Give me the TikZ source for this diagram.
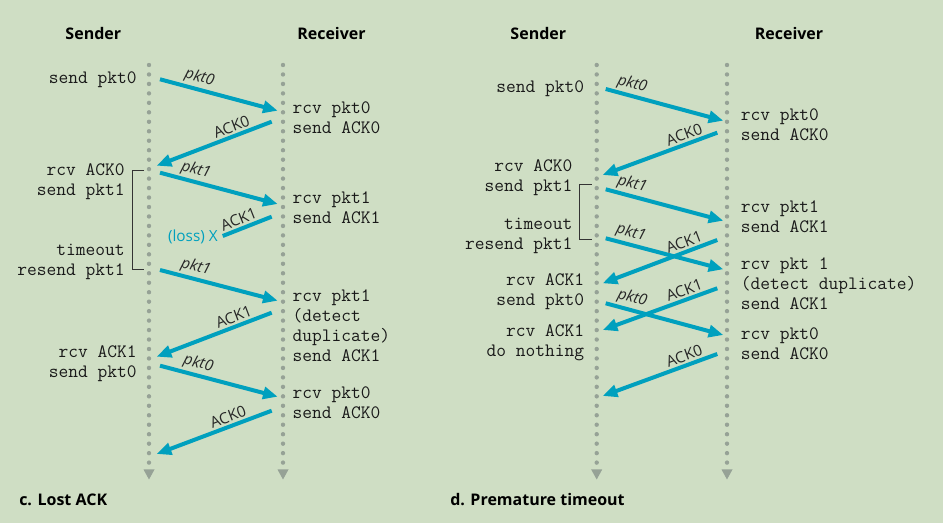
\documentclass[tikz,border=0pt]{standalone}
\usepackage{fontspec}
\setmainfont{Open Sans}
\usetikzlibrary{arrows.meta, positioning}
\definecolor{bggreen}{RGB}{207,222,196}
\definecolor{msgcyan}{RGB}{0,160,190}
\definecolor{dotgray}{RGB}{150,162,150}

\tikzset{
  hdr/.style={font=\bfseries\fontsize{12}{14}\selectfont, inner sep=0pt},
  evt/.style={font=\ttfamily\fontsize{14.2}{15}\selectfont, inner sep=0pt, text=black!90},
  msg/.style={msgcyan, line width=3pt, -{Triangle[length=11pt,width=9pt]}},
  lost/.style={msgcyan, line width=3pt},
  pktlbl/.style={font=\itshape\fontsize{11.5}{13}\selectfont, text=black!85, sloped, above, inner sep=1.5pt},
  acklbl/.style={font=\fontsize{11.5}{13}\selectfont, text=black!85, sloped, above, inner sep=1.5pt},
  lifeline/.style={dotgray, line width=3.3pt, line cap=round, dash pattern=on 0pt off 7.1pt},
  brk/.style={black!80, line width=0.7pt},
}

\begin{document}
\begin{tikzpicture}[x=0.75pt, y=-0.75pt]
  \fill[bggreen] (0,0) rectangle (943,523);
  \useasboundingbox (0,0) rectangle (943,523);

  % ---- c. Lost ACK ----
  \node (senderC) [hdr] at (93.3,33.3) {Sender};
  \node (receiverC) [hdr] at (331.5,33.3) {Receiver};
  \draw[lifeline] (149,65) -- (149,465);
  \draw[lifeline] (283,65) -- (283,465);
  \fill[dotgray] (143.5,469.5) -- (154.5,469.5) -- (149,479.5) -- cycle;
  \fill[dotgray] (277.5,469.5) -- (288.5,469.5) -- (283,479.5) -- cycle;

  \node (cL1) [evt, anchor=east] at (137,79.3) {send pkt0};
  \node (cL2) [evt, anchor=east, align=right] at (125,182) {rcv ACK0\\send pkt1};
  \node (cL3) [evt, anchor=east, align=right] at (125,262.3) {timeout\\resend pkt1};
  \node (cL4) [evt, anchor=east, align=right] at (137,363.3) {rcv ACK1\\send pkt0};
  \draw[brk] (144,170.7) -- (132.7,170.7) -- (132.7,269.3) -- (144,269.3);

  \node (cR1) [evt, anchor=west, align=left] at (292.3,117.3) {rcv pkt0\\send ACK0};
  \node (cR2) [evt, anchor=west, align=left] at (292.3,207.8) {rcv pkt1\\send ACK1};
  \node (cR3) [evt, anchor=west, align=left] at (292.3,326) {rcv pkt1\\(detect\\duplicate)\\send ACK1};
  \node (cR4) [evt, anchor=west, align=left] at (292.3,402.7) {rcv pkt0\\send ACK0};

  \coordinate (cS1) at (160,79.3);     \coordinate (cR1t) at (277.7,110.7);
  \coordinate (cR1s) at (271.7,121.7); \coordinate (cS2) at (156.7,165.7);
  \coordinate (cS3) at (160,172.7);    \coordinate (cR2t) at (277.7,204);
  \coordinate (cR2s) at (271.7,216.7); \coordinate (cLoss) at (222.7,236);
  \coordinate (cS4) at (160,270);      \coordinate (cR3t) at (277.7,300.7);
  \coordinate (cR3s) at (271.7,312.7); \coordinate (cS5) at (156.7,356.7);
  \coordinate (cS6) at (160,365.7);    \coordinate (cR4t) at (277.7,396.7);
  \coordinate (cR4s) at (271.7,410.7); \coordinate (cS7) at (156.7,454);

  \draw[msg] (cS1) -- (cR1t) node[pktlbl, pos=0.31] {pkt0};
  \draw[msg] (cR1s) -- (cS2) node[acklbl, pos=0.32] {ACK0};
  \draw[msg] (cS3) -- (cR2t) node[pktlbl, pos=0.28] {pkt1};
  \draw[lost] (cR2s) -- (cLoss) node[acklbl, pos=0.6] {ACK1};
  \node (lossC) [font=\fontsize{11.5}{13}\selectfont, text=msgcyan, anchor=east, inner sep=0pt] at (218,237.3) {(loss) X};
  \draw[msg] (cS4) -- (cR3t) node[pktlbl, pos=0.28] {pkt1};
  \draw[msg] (cR3s) -- (cS5) node[acklbl, pos=0.3] {ACK1};
  \draw[msg] (cS6) -- (cR4t) node[pktlbl, pos=0.3] {pkt0};
  \draw[msg] (cR4s) -- (cS7) node[acklbl, pos=0.35] {ACK0};

  \node (captionC) [hdr, anchor=west] at (19,500) {c. Lost ACK};

  % ---- d. Premature timeout ----
  \node (senderD) [hdr] at (538.3,33.3) {Sender};
  \node (receiverD) [hdr] at (789,33.3) {Receiver};
  \draw[lifeline] (596.7,65) -- (596.7,465);
  \draw[lifeline] (727,65) -- (727,465);
  \fill[dotgray] (591.2,469.5) -- (602.2,469.5) -- (596.7,479.5) -- cycle;
  \fill[dotgray] (721.5,469.5) -- (732.5,469.5) -- (727,479.5) -- cycle;

  \node (dL1) [evt, anchor=east] at (584.3,88.3) {send pkt0};
  \node (dL2) [evt, anchor=east, align=right] at (572.7,178) {rcv ACK0\\send pkt1};
  \node (dL3) [evt, anchor=east, align=right] at (572.7,235.7) {timeout\\resend pkt1};
  \node (dL4) [evt, anchor=east, align=right] at (584.3,291.7) {rcv ACK1\\send pkt0};
  \node (dL5) [evt, anchor=east, align=right] at (584.3,343) {rcv ACK1\\do nothing};
  \draw[brk] (591.7,184.3) -- (579.3,184.3) -- (579.3,239) -- (591.7,239);

  \node (dR1) [evt, anchor=west, align=left] at (740.7,125) {rcv pkt0\\send ACK0};
  \node (dR2) [evt, anchor=west, align=left] at (740.7,217) {rcv pkt1\\send ACK1};
  \node (dR3) [evt, anchor=west, align=left] at (740.7,283.3) {rcv pkt 1\\(detect duplicate)\\send ACK1};
  \node (dR4) [evt, anchor=west, align=left] at (740.7,343.3) {rcv pkt0\\send ACK0};

  \coordinate (dS1) at (605.7,89);     \coordinate (dR1t) at (723.3,120.7);
  \coordinate (dR1s) at (717.3,132.7); \coordinate (dS2) at (602.7,175);
  \coordinate (dS3) at (605.7,189.3);  \coordinate (dR2t) at (723.3,220.7);
  \coordinate (dS4) at (605.7,238.3);  \coordinate (dR3t) at (723.3,269.3);
  \coordinate (dR2s) at (717.3,240);   \coordinate (dS5) at (602.7,283.3);
  \coordinate (dS6) at (605.7,303.3);  \coordinate (dR4t) at (723.3,335);
  \coordinate (dR3s) at (717.3,288.3); \coordinate (dS7) at (602.7,330);
  \coordinate (dR4s) at (717.3,354);   \coordinate (dS8) at (602.7,396);

  \draw[msg] (dS1) -- (dR1t) node[pktlbl, pos=0.2] {pkt0};
  \draw[msg] (dR1s) -- (dS2) node[acklbl, pos=0.26] {ACK0};
  \draw[msg] (dS3) -- (dR2t) node[pktlbl, pos=0.2] {pkt1};
  \draw[msg] (dS4) -- (dR3t) node[pktlbl, pos=0.19] {pkt1};
  \draw[msg] (dR2s) -- (dS5) node[acklbl, pos=0.26] {ACK1};
  \draw[msg] (dS6) -- (dR4t) node[pktlbl, pos=0.2] {pkt0};
  \draw[msg] (dR3s) -- (dS7) node[acklbl, pos=0.26] {ACK1};
  \draw[msg] (dR4s) -- (dS8) node[acklbl, pos=0.26] {ACK0};

  \node (captionD) [hdr, anchor=west] at (450,500) {d. Premature timeout};
\end{tikzpicture}
\end{document}
